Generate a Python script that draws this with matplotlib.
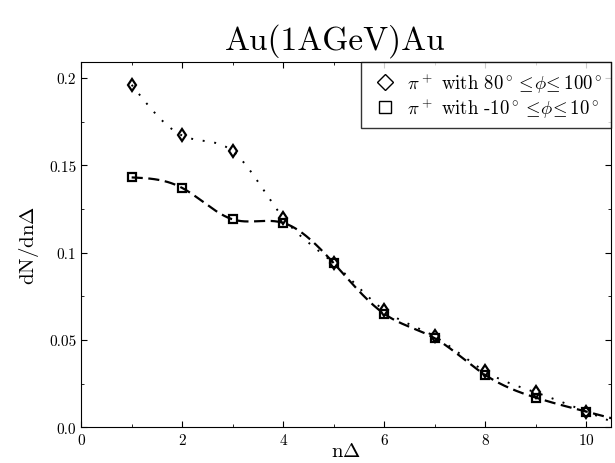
import matplotlib
matplotlib.use('Agg')
import matplotlib.pyplot as plt
import numpy as np
from matplotlib.lines import Line2D

plt.rcParams['font.family'] = 'cmr10'
plt.rcParams['mathtext.fontset'] = 'cm'
plt.rcParams['axes.formatter.use_mathtext'] = True

n_delta = [1, 2, 3, 4, 5, 6, 7, 8, 9, 10]
perp = [0.196, 0.167, 0.158, 0.120, 0.094, 0.067, 0.052, 0.032, 0.020, 0.009]
inplane = [0.143, 0.137, 0.119, 0.117, 0.094, 0.065, 0.051, 0.030, 0.017, 0.009]

xticks = [0, 2, 4, 6, 8, 10]
yticks = [0.0, 0.05, 0.1, 0.15, 0.2]
ylabels = ['0.0', '0.05', '0.1', '0.15', '0.2']


def spline(x, y, xs):
    # natural cubic spline, last piece used past the end
    x = np.asarray(x, float)
    y = np.asarray(y, float)
    n = len(x)
    h = np.diff(x)
    A = np.zeros((n, n))
    b = np.zeros(n)
    A[0, 0] = 1
    A[-1, -1] = 1
    for i in range(1, n - 1):
        A[i, i - 1] = h[i - 1]
        A[i, i] = 2 * (h[i - 1] + h[i])
        A[i, i + 1] = h[i]
        b[i] = 3 * ((y[i + 1] - y[i]) / h[i] - (y[i] - y[i - 1]) / h[i - 1])
    c = np.linalg.solve(A, b)
    out = []
    for v in xs:
        i = min(max(np.searchsorted(x, v) - 1, 0), n - 2)
        d = v - x[i]
        bi = (y[i + 1] - y[i]) / h[i] - h[i] * (2 * c[i] + c[i + 1]) / 3
        di = (c[i + 1] - c[i]) / (3 * h[i])
        out.append(y[i] + bi * d + c[i] * d ** 2 + di * d ** 3)
    return np.array(out)


xs = np.linspace(1, 10.5, 400)

fig = plt.figure(figsize=(6.15, 4.64), dpi=100)
ax = fig.add_axes([0.132, 0.077, 0.862, 0.787])

ax.plot(xs, spline(n_delta, perp, xs), color='black', lw=1.4,
        linestyle=(0, (1, 5)))
ax.plot(xs, spline(n_delta, inplane, xs), color='black', lw=1.6,
        linestyle=(0, (5, 2.5)))
ax.plot(n_delta, perp, 'd', ms=6.5, mfc='none', mec='black', mew=1.6)
ax.plot(n_delta, inplane, 's', ms=5.5, mfc='none', mec='black', mew=1.6)

ax.set_xlim(0, 10.5)
ax.set_ylim(0, 0.209)
ax.set_xticks(xticks)
ax.set_xticks([1, 3, 5, 7, 9], minor=True)
ax.set_yticks(yticks)
ax.set_yticklabels(ylabels)
ax.set_yticks([0.025, 0.075, 0.125, 0.175], minor=True)
ax.tick_params(which='both', direction='in', top=True, right=True,
               labelsize=11)
ax.tick_params(which='major', length=4)
ax.tick_params(which='minor', length=2.5)
ax.set_xlabel(r'n$\Delta$', fontsize=15, labelpad=-4)
ax.set_ylabel(r'dN/dn$\Delta$', fontsize=15, labelpad=6)
fig.text(0.545, 0.912, 'Au(1AGeV)Au', fontsize=24, ha='center', va='center')

handles = [
    Line2D([], [], marker='D', ls='none', ms=8, mfc='none', mec='black', mew=1.0),
    Line2D([], [], marker='s', ls='none', ms=9, mfc='none', mec='black', mew=1.0),
]
labels = [r'$\pi^+$ with 80$^\circ\leq\!\phi\!\leq$100$^\circ$',
          r'$\pi^+$ with -10$^\circ\leq\!\phi\!\leq$10$^\circ$']
leg = ax.legend(handles, labels, loc='upper right', fontsize=13.5,
                frameon=True, fancybox=False, borderaxespad=0,
                handletextpad=0.4, labelspacing=0.05, borderpad=0.45,
                handlelength=1.6)
leg.get_frame().set_edgecolor('black')
leg.get_frame().set_linewidth(1.0)

fig.savefig('out.png')
